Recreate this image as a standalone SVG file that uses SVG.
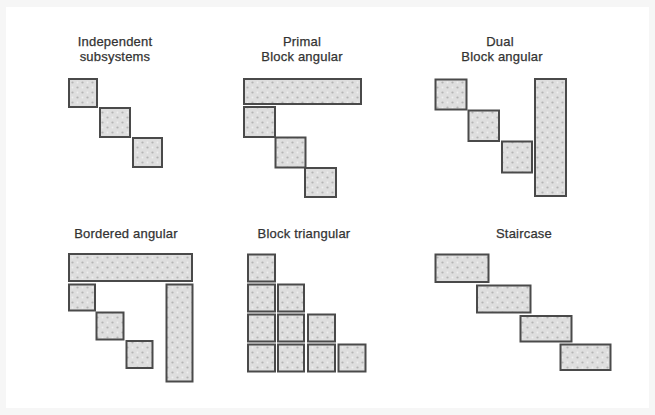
<svg xmlns="http://www.w3.org/2000/svg" width="655" height="415" viewBox="0 0 655 415">
<style>
.lbl{font-family:"Liberation Sans","Noto Sans",Arial,sans-serif;font-size:13px;fill:#333333;stroke:#333333;stroke-width:0.25px;text-anchor:middle;letter-spacing:0.2px}
.b{fill:url(#ht);stroke:#4a4a4a;stroke-width:2}
</style>
<defs>
<pattern id="ht" width="10" height="10" patternUnits="userSpaceOnUse">
<rect width="10" height="10" fill="#dedede"/>
<circle cx="2.5" cy="2.5" r="1.1" fill="#b4b4b4"/>
<circle cx="7.5" cy="7.5" r="1.1" fill="#b4b4b4"/>
<circle cx="7.5" cy="2.5" r="0.9" fill="#f0f0f0"/>
<circle cx="2.5" cy="7.5" r="0.9" fill="#f0f0f0"/>
</pattern>
</defs>
<rect width="655" height="415" fill="#f6f6f6"/>
<rect x="6" y="7" width="643" height="401" fill="#ffffff"/>

<g id="independent-subsystems">
<text class="lbl" x="115" y="46">Independent</text>
<text class="lbl" x="115" y="61">subsystems</text>
<rect class="b" x="69" y="79" width="28" height="28"/>
<rect class="b" x="100" y="108" width="30" height="29"/>
<rect class="b" x="133" y="138" width="29" height="29"/>
</g>

<g id="primal-block-angular">
<text class="lbl" x="302" y="46">Primal</text>
<text class="lbl" x="302" y="61">Block angular</text>
<rect class="b" x="244" y="79" width="117" height="25"/>
<rect class="b" x="244" y="107" width="31" height="30"/>
<rect class="b" x="275.5" y="137.5" width="30" height="30"/>
<rect class="b" x="305" y="168" width="31" height="29"/>
</g>

<g id="dual-block-angular">
<text class="lbl" x="500" y="46">Dual</text>
<text class="lbl" x="502" y="61">Block angular</text>
<rect class="b" x="435.5" y="79.5" width="31" height="30"/>
<rect class="b" x="468.5" y="110.5" width="30.5" height="30.5"/>
<rect class="b" x="502" y="141.5" width="30" height="31"/>
<rect class="b" x="535" y="79" width="31" height="117"/>
</g>

<g id="bordered-angular">
<text class="lbl" x="126" y="238">Bordered angular</text>
<rect class="b" x="69" y="254" width="123" height="27"/>
<rect class="b" x="69" y="284.5" width="26" height="26"/>
<rect class="b" x="96.5" y="312.5" width="27" height="27"/>
<rect class="b" x="126.5" y="341" width="26" height="27"/>
<rect class="b" x="166.5" y="284.5" width="26" height="97"/>
</g>

<g id="block-triangular">
<text class="lbl" x="304" y="238">Block triangular</text>
<rect class="b" x="248" y="254.5" width="27" height="27"/>
<rect class="b" x="248" y="284.5" width="27" height="27"/>
<rect class="b" x="278" y="284.5" width="26" height="27"/>
<rect class="b" x="248" y="314.5" width="27" height="27"/>
<rect class="b" x="278" y="314.5" width="26" height="27"/>
<rect class="b" x="308" y="314.5" width="27" height="27"/>
<rect class="b" x="248" y="344.5" width="27" height="27"/>
<rect class="b" x="278" y="344.5" width="26" height="27"/>
<rect class="b" x="308" y="344.5" width="27" height="27"/>
<rect class="b" x="338.5" y="344.5" width="27" height="27"/>
</g>

<g id="staircase">
<text class="lbl" x="524" y="238">Staircase</text>
<rect class="b" x="435.5" y="254.5" width="53" height="27.5"/>
<rect class="b" x="477" y="285.5" width="53.5" height="27"/>
<rect class="b" x="520.5" y="316" width="51" height="25.5"/>
<rect class="b" x="560.5" y="344.5" width="50" height="25.5"/>
</g>

<g id="connectors"></g>
</svg>
